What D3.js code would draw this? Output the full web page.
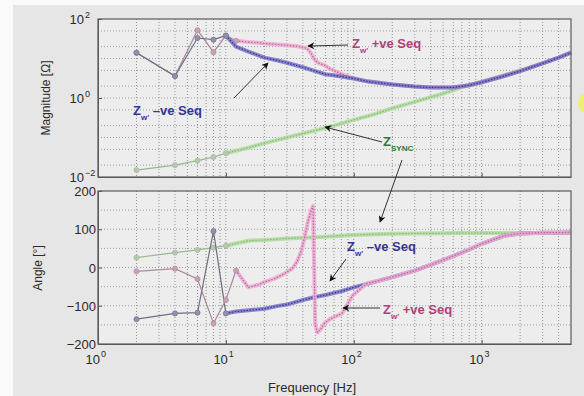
<!DOCTYPE html>
<html>
<head>
<meta charset="utf-8">
<script src="https://cdn.jsdelivr.net/npm/d3@7"></script>
<style>
  html, body { margin: 0; padding: 0; background: #e6e6e6; }
  svg { display: block; font-family: "Liberation Sans", Arial, sans-serif; }
</style>
</head>
<body>
<svg width="584" height="396"></svg>
<script>
// Z_w' -ve sequence
const freqNeg = [2, 4, 6, 8, 10, 12, 15, 20, 25, 30, 40, 50, 60, 80, 100, 130, 200, 300, 400, 600, 800, 1000, 1500, 2000, 3000, 4000, 5000];
const magNeg = [14, 3.6, 33, 30, 38, 20, 15, 10.5, 9, 7.8, 6, 4.8, 4, 3.5, 3.1, 2.6, 2.2, 1.95, 1.85, 1.85, 2.1, 2.5, 3.6, 4.8, 7.5, 10.5, 14];
const angNeg = [-135, -120, -118, 95, -120, -115, -112, -108, -101, -97, -85, -77, -72, -62, -52, -42, -25, -8, 7, 30, 47, 62, 83, 89, 91, 91, 92];

// Z_w' +ve sequence
const freqPos = [2, 4, 6, 8, 10, 12, 15, 18, 20, 24, 28, 33, 36, 39, 42, 44, 46, 48, 50, 52, 55, 59, 65, 81, 98, 126, 150, 200, 300, 400, 600, 800, 1000, 1500, 2000, 3000, 4000, 5000];
const magPos = [14, 3.6, 52, 14.5, 38, 28, 26, 25, 24, 23, 22, 21, 20.5, 19.5, 18.5, 17, 14, 11, 9, 8, 7.3, 6.8, 5.5, 4, 3.2, 2.7, 2.5, 2.2, 1.95, 1.85, 1.85, 2.1, 2.5, 3.6, 4.8, 7.5, 10.5, 14];
const angPos = [-10, -3, -30, -146, -85, -8, -52, -45, -38, -29, -18, -3, 15, 44, 90, 122, 145, 161, -150, -170, -162, -146, -135, -120, -73, -42, -36, -25, -8, 7, 30, 47, 62, 83, 89, 91, 91, 92];

// Z_SYNC
const freqSync = [2, 4, 6, 8, 10, 15, 20, 30, 50, 70, 100, 150, 200, 300, 500, 700, 1000, 1500, 2000, 3000, 4000, 5000];
const magSync = [0.015, 0.02, 0.026, 0.032, 0.04, 0.055, 0.072, 0.1, 0.15, 0.2, 0.28, 0.4, 0.55, 0.8, 1.3, 1.85, 2.6, 3.8, 5, 7.5, 10.5, 14];
const angSync = [26, 39, 46, 52, 57, 70, 72, 76, 79, 82, 85, 87, 88, 89, 89.5, 90, 90, 90, 90, 90, 90, 90];

const xTicks = [1, 10, 100, 1000];
const magTicks = [0.01, 1, 100];
const angTicks = [-200, -100, 0, 100, 200];

const svg = d3.select('svg');
const W = 584, H = 396;

// white strips at top/left of the scan
svg.append('rect').attr('width', W).attr('height', H).attr('fill', '#e6e6e6');
svg.append('rect').attr('width', 13).attr('height', H).attr('fill', '#fafafa');
svg.append('rect').attr('width', W).attr('height', 5).attr('fill', '#fafafa');
svg.append('ellipse').attr('cx', 584).attr('cy', 103).attr('rx', 6).attr('ry', 9)
  .attr('fill', '#f0f060').attr('opacity', 0.85);

const left = 98, right = 571;
const x = d3.scaleLog().domain([1, 5000]).range([left, right]);
const yMag = d3.scaleLog().domain([0.01, 100]).range([177, 19]);
const yAng = d3.scaleLinear().domain([-200, 200]).range([344, 191]);

// minor/major log values for grids
const xGrid = [];
for (let d = 0; d <= 3; d++) for (let k = 1; k <= 9; k++) {
  const v = k * Math.pow(10, d);
  if (v > 1 && v < 5000) xGrid.push(v);
}
const magGrid = [];
for (let d = -2; d <= 1; d++) [1, 2, 5].forEach(k => {
  const v = k * Math.pow(10, d);
  if (v > 0.01) magGrid.push(v);
});

function panel(y, yGrid) {
  const [y0, y1] = y.range();
  const g = svg.append('g');
  g.append('rect').attr('x', left).attr('y', y1).attr('width', right - left).attr('height', y0 - y1)
    .attr('fill', '#ededed');
  g.selectAll('line.vx').data(xGrid).join('line')
    .attr('x1', d => x(d)).attr('x2', d => x(d)).attr('y1', y1).attr('y2', y0)
    .attr('stroke', '#7a7a7a').attr('stroke-width', 0.8).attr('stroke-dasharray', '1,2');
  g.selectAll('line.hy').data(yGrid).join('line')
    .attr('y1', d => y(d)).attr('y2', d => y(d)).attr('x1', left).attr('x2', right)
    .attr('stroke', '#8a8a8a').attr('stroke-width', 0.8).attr('stroke-dasharray', '1,2');
  return g;
}

panel(yMag, magGrid);
panel(yAng, [-150, -100, -50, 0, 50, 100, 150]);

function series(fs, vs, y, opts) {
  const pts = fs.map((f, i) => [x(f), y(vs[i]), f]);
  const line = d3.line();
  const g = svg.append('g');
  const lo = pts.filter(p => p[2] <= opts.split);
  const hi = pts.filter(p => p[2] >= opts.split);
  g.append('path').attr('d', line(lo)).attr('fill', 'none')
    .attr('stroke', opts.thin).attr('stroke-width', 1.2);
  g.append('path').attr('d', line(hi)).attr('fill', 'none')
    .attr('stroke', opts.band).attr('stroke-width', 4).attr('stroke-linejoin', 'round')
    .attr('opacity', 0.9);
  g.append('path').attr('d', line(hi)).attr('fill', 'none')
    .attr('stroke', opts.mark).attr('stroke-width', 1.2).attr('stroke-dasharray', '1.5,1.5');
  g.selectAll('circle').data(lo).join('circle')
    .attr('cx', p => p[0]).attr('cy', p => p[1]).attr('r', 2.6)
    .attr('fill', opts.dot).attr('stroke', opts.thin).attr('stroke-width', 0.6);
}

const styleSync = { split: 10, thin: '#9ab890', band: '#b2dca2', mark: '#84b874', dot: '#b8c8b0' };
const stylePos = { split: 12, thin: '#a88a9a', band: '#eaaed0', mark: '#c8609c', dot: '#c8a0b8' };
const styleNeg = { split: 10, thin: '#6e6e80', band: '#7d78c8', mark: '#3a3690', dot: '#9090b0' };

series(freqSync, magSync, yMag, styleSync);
series(freqPos, magPos, yMag, stylePos);
series(freqNeg, magNeg, yMag, styleNeg);

series(freqSync, angSync, yAng, styleSync);
series(freqNeg, angNeg, yAng, styleNeg);
series(freqPos, angPos, yAng, stylePos);

// frames and inward ticks
function frame(y, yTicks) {
  const [y0, y1] = y.range();
  svg.append('g').attr('transform', `translate(0,${y0})`)
    .call(d3.axisBottom(x).tickValues(xTicks).tickFormat('').tickSize(-4).tickSizeOuter(0))
    .call(g => g.selectAll('line,path').attr('stroke', '#555'));
  svg.append('g').attr('transform', `translate(${left},0)`)
    .call(d3.axisLeft(y).tickValues(yTicks).tickFormat('').tickSize(-4).tickSizeOuter(0))
    .call(g => g.selectAll('line,path').attr('stroke', '#555'));
  svg.append('rect').attr('x', left).attr('y', y1).attr('width', right - left).attr('height', y0 - y1)
    .attr('fill', 'none').attr('stroke', '#5a5a5a').attr('stroke-width', 1.2);
}
frame(yMag, magTicks);
frame(yAng, angTicks);

// tick labels
const lab = svg.append('g').attr('fill', '#2a2a2a').style('font-size', '13px');
magTicks.forEach(v => {
  lab.append('text').attr('x', 84).attr('y', yMag(v) + 5).attr('text-anchor', 'end').text('10');
  lab.append('text').attr('x', 85).attr('y', yMag(v) - 1).style('font-size', '9px')
    .text(String(Math.round(Math.log10(v))).replace('-', '\u2212'));
});
angTicks.forEach(v => {
  lab.append('text').attr('x', 96).attr('y', yAng(v) + 5).attr('text-anchor', 'end')
    .text(String(v).replace('-', '\u2212'));
});
xTicks.forEach(v => {
  lab.append('text').attr('x', x(v) + 2).attr('y', 364).attr('text-anchor', 'end').text('10');
  lab.append('text').attr('x', x(v) + 3).attr('y', 357).style('font-size', '9px')
    .text(String(Math.round(Math.log10(v))));
});

// axis titles
lab.append('text').attr('transform', 'translate(50,98) rotate(-90)').attr('text-anchor', 'middle')
  .style('font-size', '12px').text('Magnitude [\u03A9]');
lab.append('text').attr('transform', 'translate(42,268) rotate(-90)').attr('text-anchor', 'middle')
  .style('font-size', '12px').text('Angle [\u00B0]');
lab.append('text').attr('x', 312).attr('y', 392).attr('text-anchor', 'middle')
  .style('font-size', '13px').text('Frequency [Hz]');

// annotations
svg.append('defs').append('marker').attr('id', 'ah').attr('viewBox', '0 0 10 10')
  .attr('refX', 9).attr('refY', 5).attr('markerWidth', 9).attr('markerHeight', 7)
  .attr('orient', 'auto-start-reverse')
  .append('path').attr('d', 'M0,0 L10,5 L0,10 L3,5 Z').attr('fill', '#111');

function arrow(x1, y1, x2, y2) {
  svg.append('line').attr('x1', x1).attr('y1', y1).attr('x2', x2).attr('y2', y2)
    .attr('stroke', '#333').attr('stroke-width', 1).attr('marker-end', 'url(#ah)');
}

function label(xp, yp, sub, rest, color) {
  const t = svg.append('text').attr('x', xp).attr('y', yp).attr('fill', color)
    .style('font-size', '13px').style('font-weight', 'bold');
  t.append('tspan').text('Z');
  t.append('tspan').attr('dy', 5).style('font-size', '8px').text(sub);
  if (rest) t.append('tspan').attr('dy', -5).text(rest);
}

const pink = '#b0407a', blue = '#34349a', green = '#2e7a38';

label(352, 48, "w'", ' +ve Seq', pink);
arrow(348, 45, 308, 46);
label(133, 115, "w'", ' \u2013ve Seq', blue);
arrow(234, 98, 268, 63);
label(383, 146, 'SYNC', null, green);
arrow(382, 142, 325, 127);
arrow(402, 160, 380, 222);
label(347, 251, "w'", ' \u2013ve Seq', blue);
arrow(346, 259, 330, 281);
label(383, 314, "w'", ' +ve Seq', pink);
arrow(380, 308, 343, 308);
</script>
</body>
</html>
